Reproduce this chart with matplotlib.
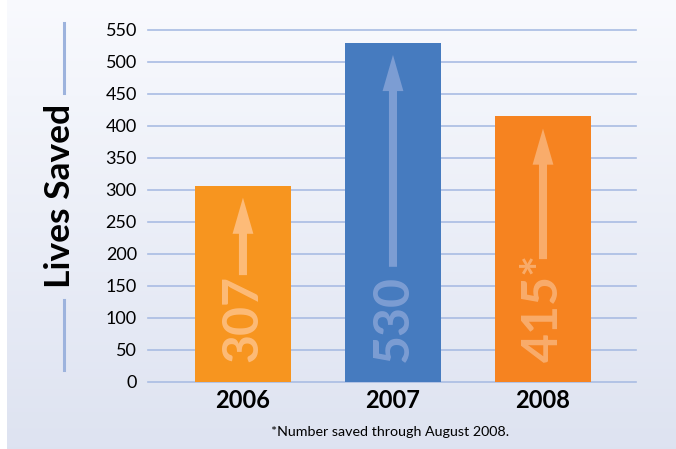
import numpy as np
import matplotlib
matplotlib.use("Agg")
import matplotlib.pyplot as plt
from matplotlib.lines import Line2D

years = ["2006", "2007", "2008"]
lives_saved = [307, 530, 415]
value_labels = ["307", "530", "415*"]
y_ticks = list(range(0, 551, 50))
footnote = "*Number saved through August 2008."

bar_colors = ["#F7951F", "#467BBF", "#F68320"]
light_colors = ["#FDBB78", "#7C9DD3", "#F9AC6B"]
arrow_base = [167, 180, 192]

plt.rcParams['font.family'] = ['Lato', 'DejaVu Sans']

fig = plt.figure(figsize=(6.76, 4.49), dpi=100)
fig.patch.set_facecolor("white")

# background gradient panel
bg = fig.add_axes([7 / 676, 0, 1 - 7 / 676, 1], zorder=-10)
grad = np.linspace(0, 1, 256).reshape(-1, 1)
top = np.array([0.975, 0.98, 0.995])
bot = np.array([0.87, 0.89, 0.945])
img = top + (bot - top) * grad[:, :, None]
bg.imshow(img, aspect="auto", extent=[0, 1, 0, 1])
bg.axis("off")

ax = fig.add_axes([148 / 676, 1 - 382 / 449, 488 / 676, 352 / 449])
ax.patch.set_alpha(0)
x = np.arange(len(years))
ax.bar(x, lives_saved, width=0.64, color=bar_colors, zorder=3)

for i, v in enumerate(lives_saved):
    ax.annotate("", xy=(i, v - 19), xytext=(i, arrow_base[i]),
                arrowprops=dict(arrowstyle="simple,head_length=2.6,head_width=1.5,tail_width=0.58",
                                mutation_scale=10, color=light_colors[i],
                                shrinkA=0, shrinkB=0, lw=0),
                zorder=4)
    ax.text(i, 31, value_labels[i], rotation=90, ha="center", va="bottom",
            fontsize=36, fontweight="bold", color=light_colors[i], zorder=5)

ax.set_xlim(-0.633, 2.62)
ax.set_ylim(0, 550)
ax.set_yticks(y_ticks)
ax.set_yticklabels([str(t) for t in y_ticks], fontsize=13)
ax.set_xticks(x)
ax.set_xticklabels(years, fontsize=17, fontweight="bold")
ax.tick_params(axis="both", length=0)
ax.tick_params(axis="y", pad=8)
ax.tick_params(axis="x", pad=5)
for t in y_ticks:
    ax.axhline(t, color="#A9BCE3", lw=1.2, zorder=1, clip_on=False)
for s in ax.spines.values():
    s.set_visible(False)

fig.text(60 / 676, 1 - 196 / 449, "Lives Saved", rotation=90, ha="center", va="center",
         fontsize=25.5, fontweight="bold")
for y0, y1 in [(23, 93), (300, 370)]:
    fig.add_artist(Line2D([64 / 676, 64 / 676], [1 - y0 / 449, 1 - y1 / 449],
                          color="#9DB3DD", lw=2.2))

fig.text(390 / 676, 1 - 432 / 449, footnote, ha="center", va="center", fontsize=10.3)

fig.savefig("out.png", dpi=100)
